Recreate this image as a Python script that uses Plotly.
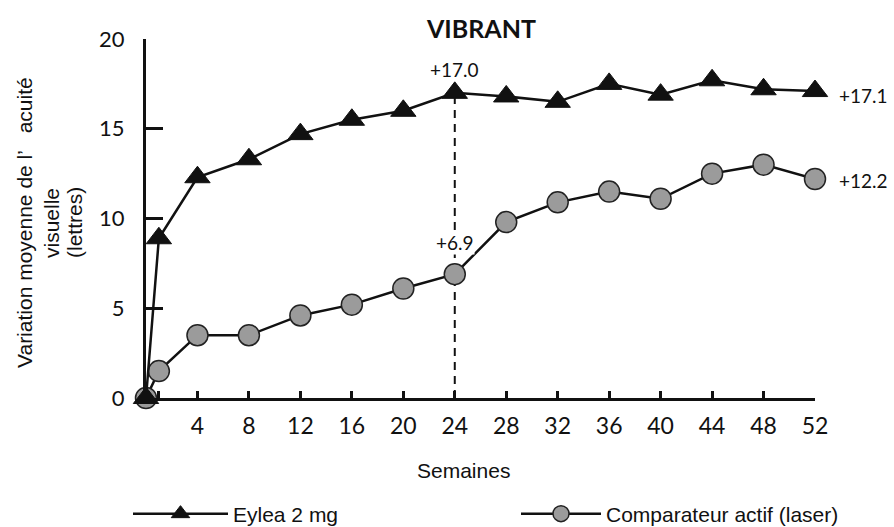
import plotly.graph_objects as go

weeks = [0, 1, 4, 8, 12, 16, 20, 24, 28, 32, 36, 40, 44, 48, 52]
eylea = [0, 8.9, 12.3, 13.3, 14.7, 15.5, 16.0, 17.0, 16.8, 16.5, 17.5, 16.9, 17.7, 17.2, 17.1]
laser = [0, 1.5, 3.5, 3.5, 4.6, 5.2, 6.1, 6.9, 9.8, 10.9, 11.5, 11.1, 12.5, 13.0, 12.2]

x_tickvals = [1, 4, 8, 12, 16, 20, 24, 28, 32, 36, 40, 44, 48, 52]
x_ticktext = ["", "4", "8", "12", "16", "20", "24", "28", "32", "36", "40", "44", "48", "52"]
y_tickvals = [0, 5, 10, 15, 20]

series_names = ["Eylea 2 mg", "Comparateur actif (laser)"]
title_text = "VIBRANT"
x_title = "Semaines"
y_title_lines = ["Variation moyenne de l’   acuité", "visuelle", "(lettres)"]
ref_week = 24

idx_ref = weeks.index(ref_week)

NUM_FONT = "Lato, Open Sans, sans-serif"
TXT_FONT = "Liberation Sans, Arial, sans-serif"

fig = go.Figure()

# dashed reference line at week 24
fig.add_trace(go.Scatter(
    x=[ref_week, ref_week], y=[0, eylea[idx_ref]],
    mode="lines", line=dict(color="#111", width=2, dash="8px,6px"),
    showlegend=False, hoverinfo="skip", cliponaxis=False))

fig.add_trace(go.Scatter(
    x=weeks, y=laser, name=series_names[1], mode="lines+markers",
    line=dict(color="#111", width=2.5),
    marker=dict(symbol="circle", size=21, color="#9b9b9b",
                line=dict(color="#222", width=1.5)),
    cliponaxis=False, legend="legend2"))

fig.add_trace(go.Scatter(
    x=weeks, y=eylea, name=series_names[0], mode="lines+markers",
    line=dict(color="#111", width=2.5),
    marker=dict(symbol="triangle-up", size=22, color="#111",
                line=dict(color="#111", width=1)),
    cliponaxis=False, legend="legend"))

L, R, T, B = 146, 79, 39, 129
W, H = 894, 527
pw, ph = W - L - R, H - T - B

def px_to_paper_x(px):
    return (px - L) / pw

def px_to_paper_y(py):
    return (H - B - py) / ph

annotations = [
    dict(text=title_text, x=px_to_paper_x(481), y=px_to_paper_y(28), xref="paper", yref="paper",
         showarrow=False, font=dict(family=NUM_FONT, size=25, color="#111", weight="bold"),
         xanchor="center", yanchor="middle"),
    dict(text="+%.1f" % eylea[idx_ref], x=ref_week, y=eylea[idx_ref], xref="x", yref="y",
         showarrow=False, yshift=23, font=dict(family=NUM_FONT, size=19, color="#111"),
         xanchor="center", yanchor="middle"),
    dict(text="+%.1f" % laser[idx_ref], x=ref_week, y=laser[idx_ref], xref="x", yref="y",
         showarrow=False, yshift=32, bgcolor="white", borderpad=0,
         font=dict(family=NUM_FONT, size=19, color="#111"),
         xanchor="center", yanchor="middle"),
    dict(text="+%.1f" % eylea[-1], x=weeks[-1], y=eylea[-1], xref="x", yref="y",
         showarrow=False, xshift=22, yshift=-4, font=dict(family=NUM_FONT, size=19, color="#111"),
         xanchor="left", yanchor="middle"),
    dict(text="+%.1f" % laser[-1], x=weeks[-1], y=laser[-1], xref="x", yref="y",
         showarrow=False, xshift=22, yshift=-1, font=dict(family=NUM_FONT, size=19, color="#111"),
         xanchor="left", yanchor="middle"),
    dict(text=x_title, x=px_to_paper_x(463), y=px_to_paper_y(470), xref="paper", yref="paper",
         showarrow=False, font=dict(family=TXT_FONT, size=21, color="#111"),
         xanchor="center", yanchor="middle"),
]

for line_text, px_x in zip(y_title_lines, [24, 51, 74]):
    annotations.append(dict(
        text=line_text, x=px_to_paper_x(px_x), y=px_to_paper_y(223), xref="paper", yref="paper",
        showarrow=False, textangle=-90, font=dict(family=TXT_FONT, size=21, color="#111"),
        xanchor="center", yanchor="middle"))

legend_common = dict(orientation="h", xanchor="left", yanchor="middle",
                     font=dict(family=TXT_FONT, size=21, color="#111"),
                     bgcolor="rgba(0,0,0,0)", borderwidth=0)

fig.update_layout(
    width=W, height=H,
    margin=dict(l=L, r=R, t=T, b=B, autoexpand=False),
    paper_bgcolor="white", plot_bgcolor="white",
    showlegend=True,
    legend=dict(x=px_to_paper_x(128), y=px_to_paper_y(514), itemwidth=95, **legend_common),
    legend2=dict(x=px_to_paper_x(516), y=px_to_paper_y(514), itemwidth=80, **legend_common),
    annotations=annotations,
    xaxis=dict(range=[0, 52], showgrid=False, zeroline=False,
               showline=True, linecolor="#111", linewidth=3,
               ticks="inside", ticklen=7, tickwidth=3, tickcolor="#111",
               tickvals=x_tickvals, ticktext=x_ticktext,
               ticklabelstandoff=5,
               tickfont=dict(family=NUM_FONT, size=23, color="#111")),
    yaxis=dict(range=[0, 20], showgrid=False, zeroline=False,
               showline=True, linecolor="#111", linewidth=3,
               ticks="inside", ticklen=17, tickwidth=3, tickcolor="#111",
               tickvals=y_tickvals,
               ticklabelstandoff=14,
               tickfont=dict(family=NUM_FONT, size=22, color="#111")),
)

fig.write_html("out.html", config={"displayModeBar": False},
               post_script="document.body.style.margin='0';")
